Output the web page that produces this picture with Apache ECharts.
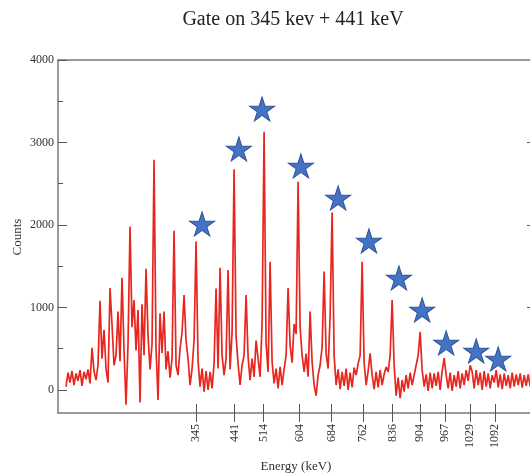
<!DOCTYPE html>
<html>
<head>
<meta charset="utf-8">
<script src="https://cdn.jsdelivr.net/npm/echarts@6/dist/echarts.min.js"></script>
<style>html,body{margin:0;padding:0;background:#fff;}#c{width:530px;height:475px;}</style>
</head>
<body>
<div id="c"></div>
<script>
// Spectrum: counts per 5 keV bin starting at 20 keV
const energyStart = 20;
const binWidth = 5;
const counts = [
  40,210,90,230,60,200,110,240,50,220,130,250,80,          // 20-80
  510,230,120,300,1080,380,730,260,90,1235,790,300,420,    // 85-145
  950,350,1360,480,-180,560,1980,760,1090,480,970,-150,    // 150-205
  1040,420,1470,650,250,560,2790,500,-120,930,450,950,     // 210-265
  250,470,150,380,1930,300,180,500,700,1150,600,380,       // 270-325
  60,260,600,1800,350,40,260,-20,230,0,220,20,             // 330-385
  320,1230,260,1480,420,180,380,1455,250,700,2675,650,     // 390-445
  320,60,300,420,1150,400,120,380,160,600,380,160,         // 450-505
  800,3130,560,220,1555,340,80,260,20,280,60,250,          // 510-565
  420,1235,540,330,800,680,2525,760,420,220,440,160,       // 570-625
  950,340,60,-70,180,300,520,1435,440,260,900,2150,        // 630-685
  420,60,250,10,220,50,260,0,210,30,270,180,               // 690-745
  320,420,1555,330,60,230,445,180,10,220,30,240,           // 750-805
  60,190,280,220,420,1090,300,-70,150,-100,120,-20,        // 810-865
  180,20,210,60,180,300,420,705,240,40,190,-10,            // 870-925
  210,20,200,50,220,0,230,385,180,20,210,-10,              // 930-985
  180,40,230,20,200,60,240,110,300,220,20,240,             // 990-1045
  60,210,0,230,40,200,20,180,90,240,30,190,                // 1050-1105
  10,200,50,180,20,210,40,190,60,200,30,180,               // 1110-1165
  50,190,40,160                                            // 1170-1185
];
// Marked transitions (stars): energy (keV), counts
const starEnergies = [360, 452, 510, 607, 700, 777, 852, 910, 970, 1045, 1100];
const starCounts   = [2012, 2921, 3406, 2715, 2327, 1806, 1358, 970, 570, 473, 376];
// Axis tick labels
const xTickValues = [345, 441, 514, 604, 684, 762, 836, 904, 967, 1029, 1092];
const yMajorTicks = [0, 1000, 2000, 3000, 4000];
const yMinorTicks = [500, 1500, 2500, 3500];

const spectrum = counts.map((c, i) => [energyStart + i * binWidth, c]);
const stars = starEnergies.map((e, i) => [e, starCounts[i]]);

const FONT = "'Liberation Serif', 'DejaVu Serif', serif";
const AX = '#7a7a7a';
const starPath = 'path://M50 0 L61.17 34.63 L97.55 34.55 L68.07 55.87 L79.39 90.45 L50 69 L20.61 90.45 L31.93 55.87 L2.45 34.55 L38.83 34.63 Z';
const plain = v => String(v);

const chart = echarts.init(document.getElementById('c'), null, {renderer: 'canvas'});
chart.setOption({
  animation: false,
  backgroundColor: '#fff',
  grid: {left: 58, top: 60, width: 475, height: 353, containLabel: false, outerBoundsMode: 'none'},
  xAxis: [
    {
      type: 'value', min: 0, max: 1187, position: 'bottom',
      axisLine: {show: true, onZero: false, lineStyle: {color: AX, width: 1.5}},
      axisTick: {show: true, inside: true, length: 9, customValues: xTickValues, lineStyle: {color: '#555', width: 1}},
      axisLabel: {show: true, customValues: xTickValues, formatter: plain, rotate: 90, margin: 11, fontFamily: FONT, fontSize: 12, color: '#333'},
      splitLine: {show: false}
    },
    {
      type: 'value', min: 0, max: 1187, position: 'bottom',
      axisLine: {show: false, onZero: false},
      axisTick: {show: true, inside: false, length: 9, customValues: xTickValues, lineStyle: {color: '#555', width: 1}},
      axisLabel: {show: false},
      splitLine: {show: false}
    },
    {
      type: 'value', min: 0, max: 1187, position: 'top',
      axisLine: {show: true, onZero: false, lineStyle: {color: AX, width: 1.5}},
      axisTick: {show: false}, axisLabel: {show: false}, splitLine: {show: false}
    }
  ],
  yAxis: [
    {
      type: 'value', min: -279, max: 4000, position: 'left',
      axisLine: {show: true, onZero: false, lineStyle: {color: AX, width: 1.5}},
      axisTick: {show: true, inside: true, length: 9, customValues: yMajorTicks, lineStyle: {color: '#555', width: 1}},
      axisLabel: {show: true, customValues: yMajorTicks, formatter: plain, margin: 4, fontFamily: FONT, fontSize: 12, color: '#333'},
      splitLine: {show: false}
    },
    {
      type: 'value', min: -279, max: 4000, position: 'left',
      axisLine: {show: false, onZero: false},
      axisTick: {show: true, inside: true, length: 5, customValues: yMinorTicks, lineStyle: {color: '#555', width: 1}},
      axisLabel: {show: false}, splitLine: {show: false}
    },
    {
      type: 'value', min: -279, max: 4000, position: 'right',
      axisLine: {show: false, onZero: false},
      axisTick: {show: true, inside: true, length: 6, customValues: [1000, 2000, 3000], lineStyle: {color: '#555', width: 1}},
      axisLabel: {show: false}, splitLine: {show: false}
    }
  ],
  graphic: [
    {type: 'text', x: 293, y: 20, style: {text: 'Gate on 345 kev + 441 keV', font: "20px 'Liberation Serif', serif", fill: '#222', align: 'center', verticalAlign: 'middle'}},
    {type: 'text', x: 18, y: 237, rotation: Math.PI / 2, style: {text: 'Counts', font: "13px 'Liberation Serif', serif", fill: '#333', align: 'center', verticalAlign: 'middle'}},
    {type: 'text', x: 296, y: 467, style: {text: 'Energy (keV)', font: "13px 'Liberation Serif', serif", fill: '#333', align: 'center', verticalAlign: 'middle'}}
  ],
  series: [
    {
      type: 'line', xAxisIndex: 0, yAxisIndex: 0, data: spectrum,
      showSymbol: false, symbol: 'none', clip: true,
      lineStyle: {color: '#e8261e', width: 1.7}, z: 2
    },
    {
      type: 'scatter', xAxisIndex: 0, yAxisIndex: 0, data: stars,
      symbol: starPath, symbolSize: [25, 24],
      itemStyle: {color: '#4472C4', borderColor: '#2F5597', borderWidth: 1, opacity: 1}, z: 3
    }
  ]
});
</script>
</body>
</html>
